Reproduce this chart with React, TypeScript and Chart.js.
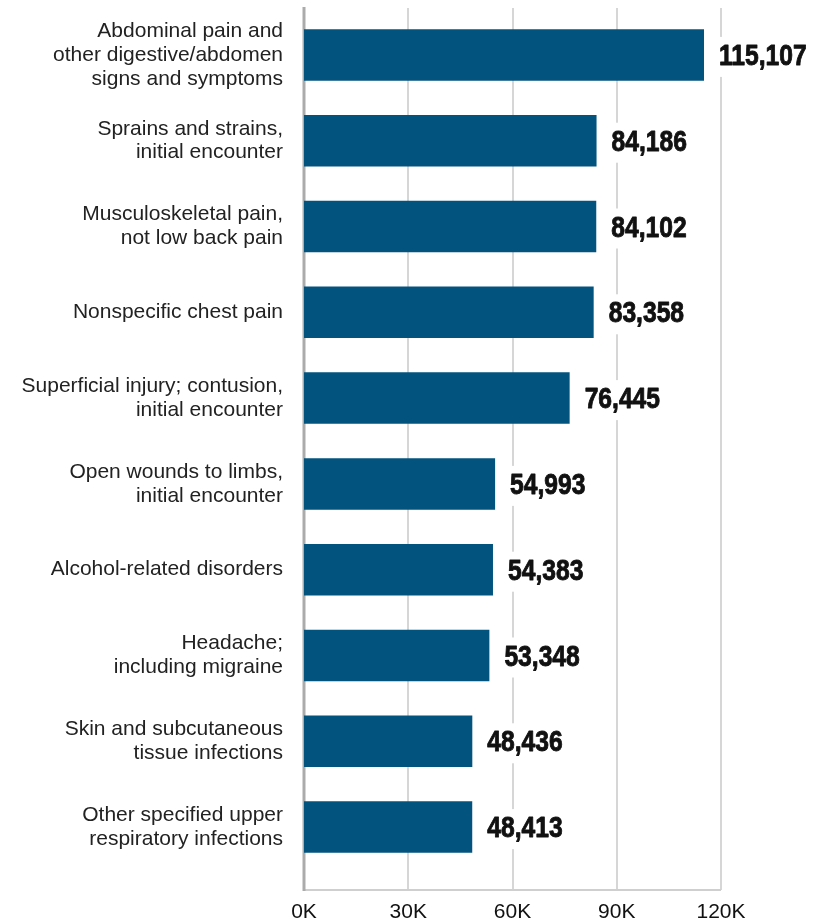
import React, { useEffect, useRef } from "react";
import { Chart, registerables } from "chart.js";

Chart.register(...registerables);

const categories: string[][] = [
  ["Abdominal pain and", "other digestive/abdomen", "signs and symptoms"],
  ["Sprains and strains,", "initial encounter"],
  ["Musculoskeletal pain,", "not low back pain"],
  ["Nonspecific chest pain"],
  ["Superficial injury; contusion,", "initial encounter"],
  ["Open wounds to limbs,", "initial encounter"],
  ["Alcohol-related disorders"],
  ["Headache;", "including migraine"],
  ["Skin and subcutaneous", "tissue infections"],
  ["Other specified upper", "respiratory infections"],
];

const visits: number[] = [115107, 84186, 84102, 83358, 76445, 54993, 54383, 53348, 48436, 48413];

const xTickValues: number[] = [0, 30000, 60000, 90000, 120000];

const BAR_COLOR = "#03537f";

const gridPlugin = {
  id: "customGrid",
  beforeDatasetsDraw(chart: any) {
    const ctx = chart.ctx;
    const xs = chart.scales.x;
    const area = chart.chartArea;
    const top = area.top - 4;
    const bottom = area.bottom + 20;
    ctx.save();
    ctx.lineWidth = 2;
    ctx.strokeStyle = "#d6d6d6";
    xTickValues.forEach((v) => {
      if (v === 0) return;
      const x = Math.round(xs.getPixelForValue(v));
      ctx.beginPath();
      ctx.moveTo(x, top);
      ctx.lineTo(x, bottom);
      ctx.stroke();
    });
    ctx.strokeStyle = "#cfcfcf";
    ctx.beginPath();
    ctx.moveTo(area.left, bottom);
    ctx.lineTo(xs.getPixelForValue(120000), bottom);
    ctx.stroke();
    ctx.lineWidth = 3;
    ctx.strokeStyle = "#ababab";
    const x0 = xs.getPixelForValue(0);
    ctx.beginPath();
    ctx.moveTo(x0, top - 1);
    ctx.lineTo(x0, bottom + 1);
    ctx.stroke();
    ctx.restore();
  },
};

const valueLabelPlugin = {
  id: "valueLabels",
  afterDatasetsDraw(chart: any) {
    const ctx = chart.ctx;
    const meta = chart.getDatasetMeta(0);
    const sx = 0.85;
    ctx.save();
    ctx.font = "bold 29px 'Liberation Sans', Arial, sans-serif";
    ctx.textBaseline = "middle";
    ctx.textAlign = "left";
    meta.data.forEach((bar: any, i: number) => {
      const text = visits[i].toLocaleString("en-US");
      const w = ctx.measureText(text).width * sx;
      const x = bar.x + 15;
      const y = bar.y + 2;
      ctx.fillStyle = "#ffffff";
      ctx.fillRect(x - 6, y - 20, w + 12, 40);
      ctx.save();
      ctx.translate(x, y);
      ctx.scale(sx, 1);
      ctx.fillStyle = "#111111";
      ctx.strokeStyle = "#111111";
      ctx.lineWidth = 0.9;
      ctx.lineJoin = "round";
      ctx.fillText(text, 0, 0);
      ctx.strokeText(text, 0, 0);
      ctx.restore();
    });
    ctx.restore();
  },
};

export default function App() {
  const canvasRef = useRef<HTMLCanvasElement | null>(null);

  useEffect(() => {
    if (!canvasRef.current) return;
    const chart = new Chart(canvasRef.current, {
      type: "bar",
      data: {
        labels: categories,
        datasets: [
          {
            data: visits,
            backgroundColor: BAR_COLOR,
            borderWidth: 0,
            barPercentage: 0.6,
            categoryPercentage: 1,
          },
        ],
      },
      options: {
        indexAxis: "y",
        responsive: true,
        maintainAspectRatio: false,
        animation: false,
        layout: { padding: { top: 12, right: 92, bottom: 0, left: 0 } },
        plugins: {
          legend: { display: false },
          tooltip: { enabled: false },
        },
        scales: {
          x: {
            min: 0,
            max: 120000,
            afterBuildTicks: (scale: any) => {
              scale.ticks = xTickValues.map((v) => ({ value: v }));
            },
            afterFit: (scale: any) => {
              scale.paddingLeft = 0;
              scale.paddingRight = 0;
              scale.paddingTop = 0;
              scale.paddingBottom = 0;
              scale.height = 53;
            },
            grid: { display: false, drawTicks: false },
            border: { display: false },
            ticks: {
              padding: 30,
              color: "#111111",
              font: { family: "'Liberation Sans', Arial, sans-serif", size: 21 },
              callback: (v: any) => `${Number(v) / 1000}K`,
            },
          },
          y: {
            afterFit: (scale: any) => {
              scale.width = 304;
              scale.paddingTop = 0;
              scale.paddingBottom = 0;
            },
            grid: { display: false, drawTicks: false },
            border: { display: false },
            ticks: {
              padding: 21,
              color: "#222222",
              font: { family: "'Liberation Sans', Arial, sans-serif", size: 21, lineHeight: 1.14 },
            },
          },
        },
      },
      plugins: [gridPlugin, valueLabelPlugin],
    });
    return () => chart.destroy();
  }, []);

  return (
    <div style={{ position: "fixed", left: 0, top: 0, width: 813, height: 923, background: "#fff" }}>
      <canvas ref={canvasRef} />
    </div>
  );
}
